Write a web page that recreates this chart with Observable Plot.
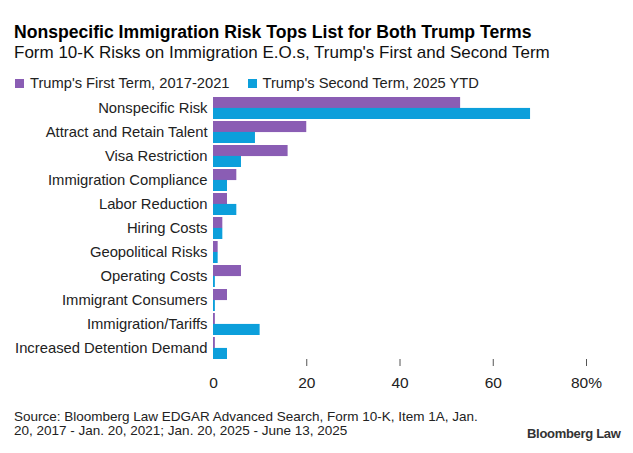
<!DOCTYPE html>
<html>
<head>
<meta charset="utf-8">
<script src="https://cdn.jsdelivr.net/npm/d3@7"></script>
<script src="https://cdn.jsdelivr.net/npm/@observablehq/plot@0.6"></script>
<style>
  html, body { margin: 0; padding: 0; background: #fff; }
  body { width: 633px; height: 453px; position: relative; overflow: hidden; font-family: "Liberation Sans", Arial, sans-serif; color: #111; }
  .abs { position: absolute; white-space: nowrap; }
  #title { left: 14px; top: 22px; font-size: 17.6px; font-weight: bold; color: #000; line-height: 20px; }
  #subtitle { left: 14px; top: 43px; font-size: 17px; color: #111; line-height: 20px; }
  #legend { left: 15px; top: 75px; font-size: 14.7px; line-height: 16px; color: #222; display: flex; gap: 18px; }
  .sw { display: inline-block; width: 9px; height: 9px; margin-right: 6px; }
  #chart { left: 0; top: 90px; }
  #source { left: 14px; top: 410px; font-size: 13.5px; line-height: 14px; color: #222; white-space: normal; width: 480px; }
  #brand { left: 527px; top: 426px; font-size: 13px; font-weight: bold; color: #333; letter-spacing: -0.3px; }
</style>
</head>
<body>
<div id="title" class="abs">Nonspecific Immigration Risk Tops List for Both Trump Terms</div>
<div id="subtitle" class="abs">Form 10-K Risks on Immigration E.O.s, Trump's First and Second Term</div>
<div id="legend" class="abs"></div>
<div id="chart" class="abs"></div>
<div id="source" class="abs">Source: Bloomberg Law EDGAR Advanced Search, Form 10-K, Item 1A, Jan.<br>20, 2017 - Jan. 20, 2021; Jan. 20, 2025 - June 13, 2025</div>
<div id="brand" class="abs">Bloomberg Law</div>
<script>
const categories = [
  "Nonspecific Risk",
  "Attract and Retain Talent",
  "Visa Restriction",
  "Immigration Compliance",
  "Labor Reduction",
  "Hiring Costs",
  "Geopolitical Risks",
  "Operating Costs",
  "Immigrant Consumers",
  "Immigration/Tariffs",
  "Increased Detention Demand"
];
const firstTerm  = [53, 20, 16, 5, 3, 2, 1, 6, 3, 0.4, 0.4];
const secondTerm = [68, 9, 6, 3, 5, 2, 1, 0.4, 0.4, 10, 3];
const seriesNames = ["Trump's First Term, 2017-2021", "Trump's Second Term, 2025 YTD"];
const seriesColors = ["#8a5db4", "#0c9fdb"];
const xTicks = [0, 20, 40, 60, 80];

const data = categories.map((c, i) => ({category: c, first: firstTerm[i], second: secondTerm[i]}));

// legend
const legend = document.getElementById("legend");
seriesNames.forEach((n, i) => {
  const s = document.createElement("span");
  s.innerHTML = `<span class="sw" style="background:${seriesColors[i]}"></span>${n}`;
  legend.appendChild(s);
});

const W = 633, H = 305, mt = 7, mb = 36, pad = 0.09;
const step = (H - mt - mb) / (categories.length - pad);
const half = step * (1 - pad) / 2;

const chart = Plot.plot({
  width: W, height: H,
  marginLeft: 213, marginRight: 47, marginTop: mt, marginBottom: mb,
  style: {fontFamily: "'Liberation Sans', Arial, sans-serif", fontSize: "14px", color: "#222", background: "transparent"},
  x: {domain: [0, 80]},
  y: {domain: categories, paddingInner: pad, paddingOuter: 0},
  marks: [
    Plot.barX(data, {y: "category", x: "first", fill: seriesColors[0], insetBottom: half}),
    Plot.barX(data, {y: "category", x: "second", fill: seriesColors[1], insetTop: half}),
    Plot.axisY({tickSize: 0, tickPadding: 6, label: null, fontSize: 14.8, fill: "#222"}),
    Plot.axisX({ticks: [20, 40, 60, 80], tickSize: 7, tickFormat: () => "", label: null, stroke: "#555"}),
    Plot.axisX({ticks: xTicks, tickSize: 0, tickPadding: 17, label: null, fontSize: 15.5, fill: "#222",
      tickFormat: d => d === 80 ? "80%" : String(d)})
  ]
});
document.getElementById("chart").appendChild(chart);
</script>
</body>
</html>
